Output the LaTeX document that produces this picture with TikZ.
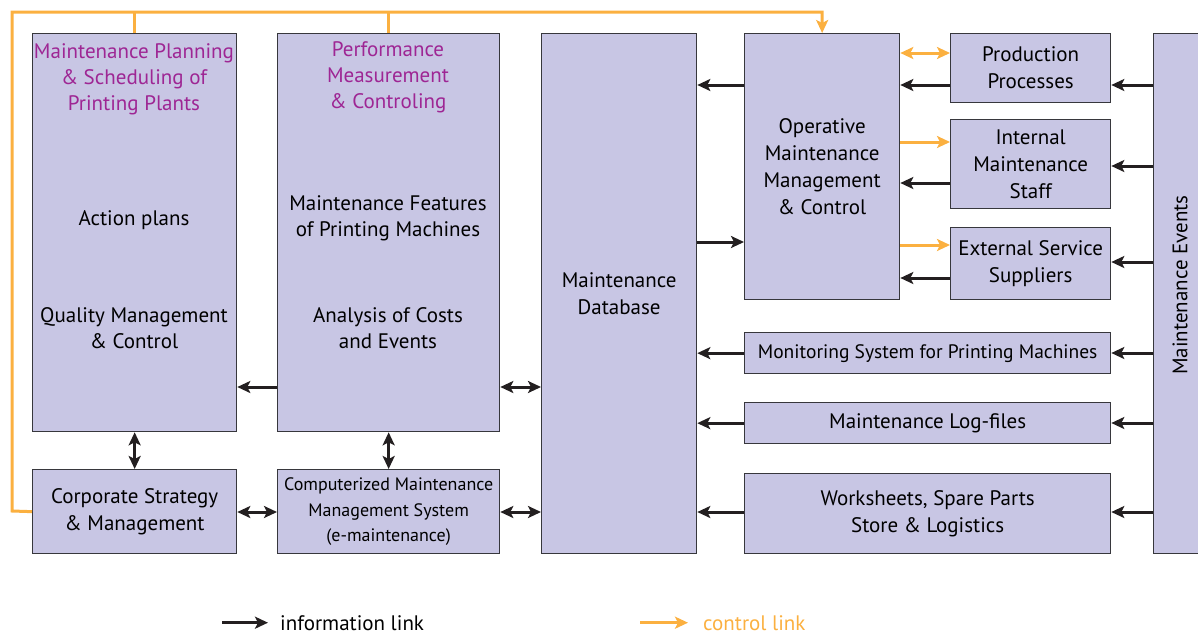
\documentclass[tikz,border=0pt]{standalone}
\usepackage{fontspec}
\setmainfont{PT Sans}
\usetikzlibrary{arrows.meta, positioning}

\definecolor{boxfill}{RGB}{200,198,228}
\definecolor{boxline}{RGB}{55,55,60}
\definecolor{ctrlcol}{RGB}{251,176,64}
\definecolor{titlecol}{RGB}{158,38,148}
\definecolor{infocol}{RGB}{35,31,32}

\tikzset{
  box/.style={draw=boxline, fill=boxfill, line width=1.3pt, anchor=north west,
    inner sep=0pt, align=center, font=\fontsize{21}{27}\selectfont},
  txt/.style={align=center, inner sep=0pt, font=\fontsize{21}{26}\selectfont},
  info/.style={draw=infocol, line width=3pt, -{Stealth[length=13pt,width=12pt,inset=3pt]}},
  infoboth/.style={info, {Stealth[length=13pt,width=12pt,inset=3pt]}-{Stealth[length=13pt,width=12pt,inset=3pt]}},
  ctrl/.style={draw=ctrlcol, line width=3pt, -{Stealth[length=13pt,width=12pt,inset=3pt]}},
  ctrlboth/.style={ctrl, {Stealth[length=13pt,width=12pt,inset=3pt]}-{Stealth[length=13pt,width=12pt,inset=3pt]}},
  ctrlline/.style={draw=ctrlcol, line width=3pt}
}

\begin{document}
\begin{tikzpicture}[x=1pt,y=-1pt]
  \useasboundingbox (0,0) rectangle (1198,635);
  \clip (0,0) rectangle (1198,635);

  % Left column
  \node[box, minimum width=204, minimum height=398] (plan) at (32,33) {};
  \node[box, minimum width=204, minimum height=84] (corp) at (32,469)
    {Corporate Strategy\\ \& Management};
  \node[txt, text=titlecol] (plantitle) at (134,79)
    {Maintenance Planning\\ \& Scheduling of\\ Printing Plants};
  \node[txt] (actions) at (134,220) {Action plans};
  \node[txt] (quality) at (134,328) {Quality Management\\ \& Control};

  % Second column
  \node[box, minimum width=222, minimum height=398] (perf) at (277,33) {};
  \node[box, minimum width=222, minimum height=84, font=\fontsize{18}{25.5}\selectfont] (cmms) at (277,469)
    {Computerized Maintenance\\ Management System\\ (e-maintenance)};
  \node[txt, text=titlecol] (perftitle) at (388,77)
    {Performance\\ Measurement\\ \& Controling};
  \node[txt] (features) at (388,218) {Maintenance Features\\ of Printing Machines};
  \node[txt] (costs) at (388,328) {Analysis of Costs\\ and Events};

  % Database
  \node[box, minimum width=155, minimum height=520] (db) at (541,33)
    {Maintenance\\ Database};

  % Operative part
  \node[box, minimum width=155, minimum height=266] (oper) at (744,33)
    {Operative\\ Maintenance\\ Management\\ \& Control};
  \node[box, minimum width=160, minimum height=69] (prod) at (950,33)
    {Production\\ Processes};
  \node[box, minimum width=160, minimum height=89] (intern) at (950,119)
    {Internal\\ Maintenance\\ Staff};
  \node[box, minimum width=160, minimum height=72] (extern) at (950,227)
    {External Service\\ Suppliers};
  \node[box, minimum width=366, minimum height=41, font=\fontsize{19.5}{25}\selectfont] (monit) at (744,332)
    {Monitoring System for Printing Machines};
  \node[box, minimum width=366, minimum height=41] (logf) at (744,402)
    {Maintenance Log-files};
  \node[box, minimum width=366, minimum height=80] (works) at (744,473)
    {Worksheets, Spare Parts\\ Store \& Logistics};

  % Event source
  \node[box, minimum width=54, minimum height=520] (events) at (1153,33) {};
  \node[txt, rotate=90] (eventstxt) at (1180,285) {Maintenance Events};

  % Information links
  \draw[info] (perf.west |- 0,387) -- (plan.east |- 0,387);
  \draw[infoboth] (perf.east |- 0,387) -- (db.west |- 0,387);
  \draw[infoboth] (plan.south) -- (corp.north);
  \draw[infoboth] (perf.south) -- (cmms.north);
  \draw[infoboth] (corp.east |- 0,512) -- (cmms.west |- 0,512);
  \draw[infoboth] (cmms.east |- 0,512) -- (db.west |- 0,512);
  \draw[info] (oper.west |- 0,85) -- (db.east |- 0,85);
  \draw[info] (db.east |- 0,242) -- (oper.west |- 0,242);
  \draw[info] (prod.west |- 0,85) -- (oper.east |- 0,85);
  \draw[info] (intern.west |- 0,183) -- (oper.east |- 0,183);
  \draw[info] (extern.west |- 0,278) -- (oper.east |- 0,278);
  \draw[info] (monit.west) -- (db.east |- monit.west);
  \draw[info] (logf.west) -- (db.east |- logf.west);
  \draw[info] (works.west |- 0,512) -- (db.east |- 0,512);
  \draw[info] (events.west |- 0,85) -- (prod.east |- 0,85);
  \draw[info] (events.west |- 0,166) -- (intern.east |- 0,166);
  \draw[info] (events.west |- 0,262) -- (extern.east |- 0,262);
  \draw[info] (events.west |- 0,353) -- (monit.east |- 0,353);
  \draw[info] (events.west |- 0,423) -- (logf.east |- 0,423);
  \draw[info] (events.west |- 0,512) -- (works.east |- 0,512);

  % Control links
  \draw[ctrl] (corp.west) -- (12,511) -- (12,12) -| (oper.north);
  \draw[ctrlline] (plan.north) -- (plan.north |- 0,12);
  \draw[ctrlline] (perf.north) -- (perf.north |- 0,12);
  \draw[ctrlboth] (oper.east |- 0,53) -- (prod.west |- 0,53);
  \draw[ctrl] (oper.east |- 0,142) -- (intern.west |- 0,142);
  \draw[ctrl] (oper.east |- 0,245) -- (extern.west |- 0,245);

  % Legend
  \node[txt, anchor=base west] (infolbl) at (280,630) {information link};
  \node[txt, anchor=base west, text=ctrlcol] (ctrllbl) at (703,630) {control link};
  \coordinate (infofrom) at (infolbl.west -| 222,0);
  \coordinate (infoto) at (infolbl.west -| 268,0);
  \coordinate (ctrlfrom) at (ctrllbl.west -| 640,0);
  \coordinate (ctrlto) at (ctrllbl.west -| 688,0);
  \draw[info] (infofrom) -- (infoto);
  \draw[ctrl] (ctrlfrom) -- (ctrlto);
\end{tikzpicture}
\end{document}
